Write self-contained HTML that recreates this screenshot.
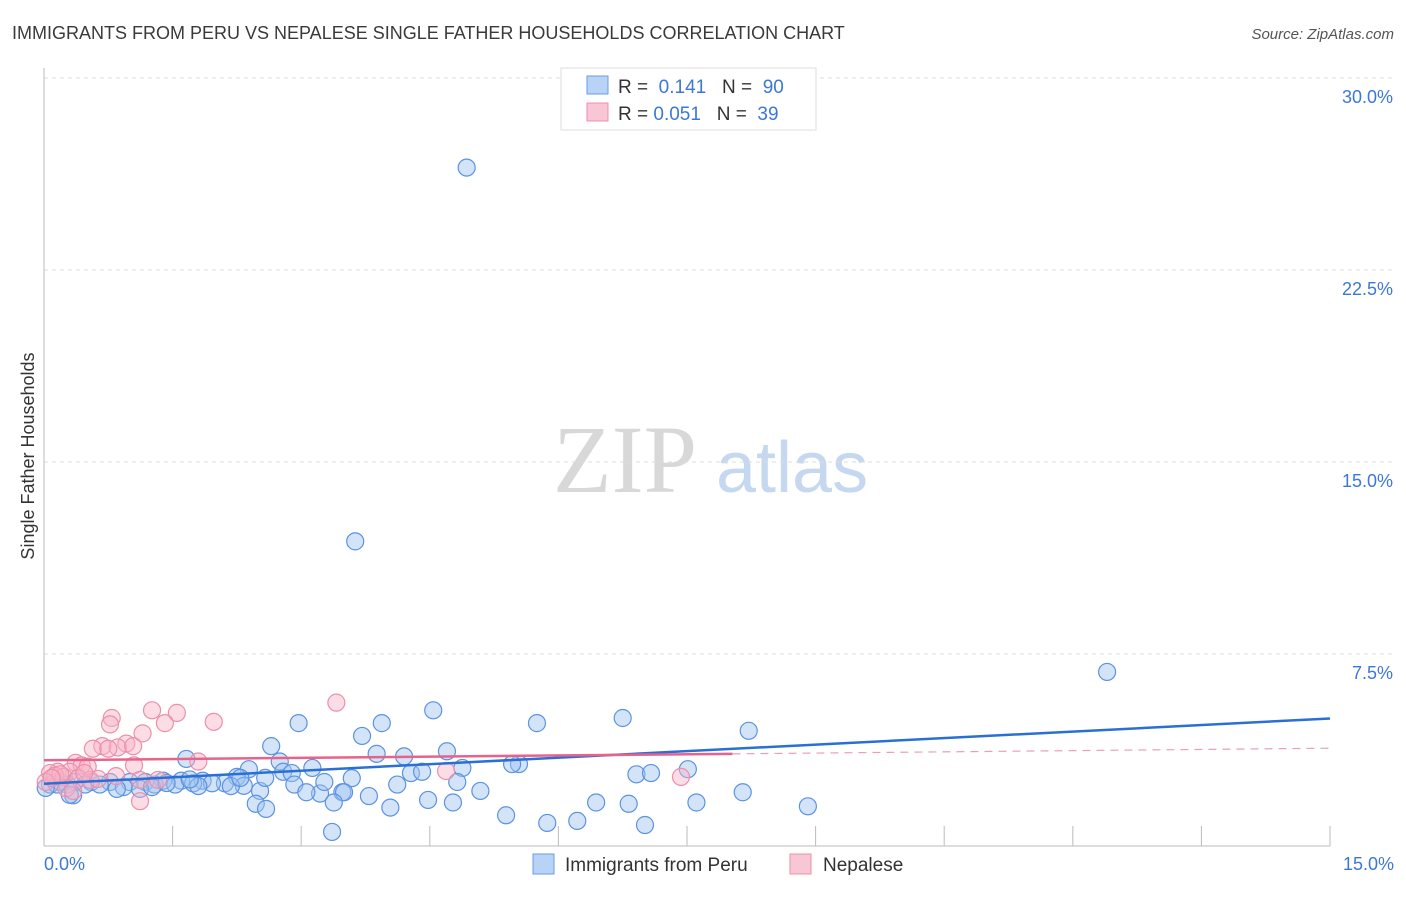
<!DOCTYPE html>
<html><head><meta charset="utf-8"><style>
body{margin:0;background:#fff;font-family:"Liberation Sans",sans-serif}
svg text{font-family:"Liberation Sans",sans-serif}
</style></head><body>
<svg id="chart" width="1406" height="892">
<text x="12" y="39" font-size="18" fill="#3a3a3a">IMMIGRANTS FROM PERU VS NEPALESE SINGLE FATHER HOUSEHOLDS CORRELATION CHART</text>
<text x="1394" y="39" font-size="15" fill="#555" text-anchor="end" font-style="italic">Source: ZipAtlas.com</text>
<g>
<text x="553" y="492" font-size="96" fill="#d8d8d8" font-family="Liberation Serif" style="font-family:'Liberation Serif',serif">ZIP</text>
<text x="716" y="492" font-size="72" fill="#c5d8f0">atlas</text>
</g>
<g id="grid"></g>
<g id="axes"></g>
<g id="pts"></g>
<g id="trend"></g>
<text transform="translate(34,456) rotate(-90)" font-size="18" fill="#333" text-anchor="middle">Single Father Households</text>
<text x="44" y="870" font-size="18" fill="#3b78d8">0.0%</text>
<text x="1394" y="870" font-size="18" fill="#3b78d8" text-anchor="end">15.0%</text>
<g>
<rect x="561" y="68" width="255" height="62" fill="#fff" stroke="#ddd"/>
<rect x="587" y="76" width="21" height="18" fill="#b8d3f5" stroke="#6a9ee6"/>
<text x="618" y="93" font-size="19" fill="#333">R = <tspan fill="#3b78d8">&#160;0.141</tspan>&#160;&#160;&#160;N = <tspan fill="#3b78d8">&#160;90</tspan></text>
<rect x="587" y="103" width="21" height="18" fill="#f8c6d4" stroke="#ec8fab"/>
<text x="618" y="120" font-size="19" fill="#333">R = <tspan fill="#3b78d8">0.051</tspan>&#160;&#160;&#160;N = <tspan fill="#3b78d8">&#160;39</tspan></text>
</g>
<g>
<rect x="533" y="854" width="21" height="20" fill="#b8d3f5" stroke="#6a9ee6"/>
<text x="565" y="871" font-size="19" fill="#333">Immigrants from Peru</text>
</g>
<g>
<rect x="790" y="854" width="21" height="20" fill="#f8c6d4" stroke="#ec8fab"/>
<text x="823" y="871" font-size="19" fill="#333">Nepalese</text>
</g>
</svg>
<script>
const yTicks=[7.5,15,22.5,30];
const yTickLabels=["7.5%","15.0%","22.5%","30.0%"];
const xTicks=[0,1.5,3,4.5,6,7.5,9,10.5,12,13.5,15];
const peruX=[4.93,3.63,12.4,4.54,2.97,3.94,5.75,6.75,8.22,3.71,2.65,4.7,1.66,3.88,2.75,4.2,5.54,5.46,7.51,4.88,2.79,3.13,2.89,2.39,4.28,4.41,6.91,7.08,3.59,2.25,1.39,1.6,1.85,1.0,1.18,0.77,0.55,0.36,0.19,0.07,2.11,1.96,1.74,1.53,1.29,0.93,0.65,0.48,0.27,0.15,2.92,2.33,2.52,3.22,3.27,4.82,4.12,5.09,3.06,3.48,3.5,3.79,4.48,4.77,6.44,6.82,8.15,8.91,7.61,4.04,2.47,2.59,3.38,5.39,5.87,6.22,7.01,3.36,0.34,1.12,0.85,0.02,1.26,1.8,2.18,1.43,2.58,2.29,1.7,0.3];
const peruY=[26.5,11.9,6.8,5.3,4.8,4.8,4.8,5.0,4.5,4.3,3.9,3.7,3.4,3.6,3.3,3.5,3.2,3.2,3.0,3.05,2.9,3.05,2.85,3.0,2.85,2.9,2.8,2.85,2.65,2.7,2.55,2.55,2.55,2.5,2.5,2.5,2.5,2.5,2.5,2.4,2.45,2.45,2.45,2.4,2.4,2.3,2.4,2.4,2.4,2.4,2.4,2.35,2.15,2.05,2.5,2.5,2.4,2.15,2.1,2.1,2.1,1.95,1.8,1.7,1.7,1.65,2.1,1.55,1.7,1.5,1.65,1.45,1.7,1.2,0.9,0.98,0.82,0.55,1.98,2.23,2.23,2.27,2.3,2.34,2.34,2.46,2.66,2.66,2.6,2.0];
const nepX=[3.41,1.26,1.55,0.79,1.98,0.77,1.41,1.15,0.96,0.68,0.57,0.86,1.04,0.75,1.05,0.37,0.44,0.51,1.8,0.16,0.3,0.07,0.13,0.23,0.40,0.54,0.63,0.84,1.12,1.33,0.02,0.26,0.34,1.12,4.69,7.43,0.19,0.09,0.47];
const nepY=[5.6,5.3,5.2,5.0,4.85,4.75,4.8,4.4,4.0,3.9,3.8,3.85,3.9,3.8,3.15,3.25,3.15,3.1,3.3,2.9,2.9,2.85,2.75,2.7,2.65,2.58,2.62,2.73,2.58,2.58,2.5,2.26,2.15,1.75,2.93,2.7,2.8,2.66,2.85];
const trendPeruX=[0,15], trendPeruY=[2.43,4.98];
const trendNepX=[0,8.03,15], trendNepY=[3.35,3.6,3.82];
const X=v=>44+v/15*1286, Y=v=>846-v/30*768;
const NS="http://www.w3.org/2000/svg";
function mk(p,t,a){const e=document.createElementNS(NS,t);for(const k in a)e.setAttribute(k,a[k]);p.appendChild(e);return e;}
const grid=document.getElementById('grid'),axes=document.getElementById('axes'),pts=document.getElementById('pts'),tr=document.getElementById('trend');
yTicks.forEach((t,i)=>{
 const l=mk(grid,'line',{x1:44,x2:1394,y1:Y(t),y2:Y(t),stroke:'#ddd','stroke-dasharray':'4,4'});
 
 
 const tx=mk(grid,'text',{x:1393,y:Y(t)+25,'font-size':18,fill:'#3b78d8','text-anchor':'end'});
 tx.textContent=yTickLabels[i];
 
 
});
const ya=mk(axes,'line',{x1:44,x2:44,y1:68,y2:846,stroke:'#bbb'});


const xa=mk(axes,'line',{x1:44,x2:1330,y1:846,y2:846,stroke:'#bbb'});


xTicks.forEach(t=>{
 const l=mk(axes,'line',{x1:X(t),x2:X(t),y1:826,y2:846,stroke:'#bbb'});
 
 
});
peruX.forEach((v,i)=>{
 const c=mk(pts,'circle',{cx:X(v),cy:Y(peruY[i]),r:8.5,fill:'rgba(160,196,240,0.45)',stroke:'#5b93e0','stroke-width':1.2});
 
 
});
nepX.forEach((v,i)=>{
 const c=mk(pts,'circle',{cx:X(v),cy:Y(nepY[i]),r:8.5,fill:'rgba(248,180,200,0.45)',stroke:'#ec8fab','stroke-width':1.2});
 
 
});
const tp=mk(tr,'line',{x1:X(trendPeruX[0]),y1:Y(trendPeruY[0]),x2:X(trendPeruX[1]),y2:Y(trendPeruY[1]),stroke:'#2a6fd6','stroke-width':2.5});


const tn=mk(tr,'line',{x1:X(trendNepX[0]),y1:Y(trendNepY[0]),x2:X(trendNepX[1]),y2:Y(trendNepY[1]),stroke:'#e8638a','stroke-width':2.5});


const td=mk(tr,'line',{x1:X(trendNepX[1]),y1:Y(trendNepY[1]),x2:X(trendNepX[2]),y2:Y(trendNepY[2]),stroke:'#e8a0b6','stroke-width':1.2,'stroke-dasharray':'8,6'});


</script>
</body></html>
